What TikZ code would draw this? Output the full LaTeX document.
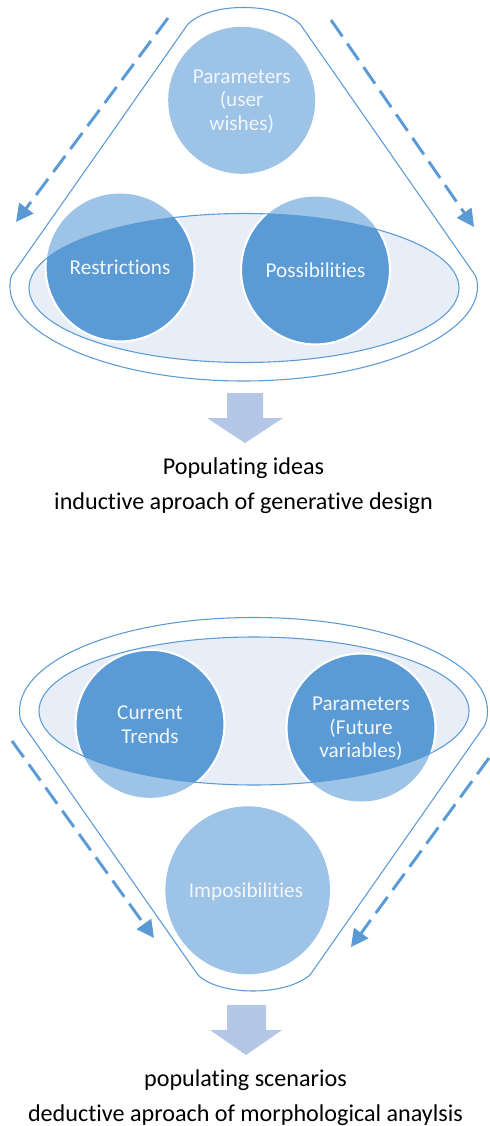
\documentclass[tikz,border=0pt]{standalone}
\usepackage{fontspec}
\setmainfont[Ligatures=NoCommon]{Carlito}
\usetikzlibrary{arrows.meta}
\definecolor{darkblue}{HTML}{5B9BD5}
\definecolor{lightblue}{HTML}{9DC3E6}
\definecolor{paleblue}{HTML}{E7EEF8}
\definecolor{blockblue}{HTML}{B4C7E7}
\definecolor{textwhite}{HTML}{F2F6FB}
\tikzset{
  x=0.75pt,y=-0.75pt,
  outline/.style={draw=darkblue,line width=0.8pt},
  flow/.style={draw=darkblue,line width=2.2pt,dash pattern=on 15pt off 6.5pt,-{Triangle[length=13pt,width=13pt]}},
  block/.style={fill=blockblue},
  circlabel/.style={text=textwhite,font=\fontsize{15.9pt}{17.7pt}\selectfont,align=center,inner sep=0pt},
  caption/.style={text=black,font=\fontsize{18.1pt}{22pt}\selectfont,inner sep=0pt}
}
\begin{document}
\begin{tikzpicture}
\useasboundingbox (0,0) rectangle (489,1126);
\fill[white] (0,0) rectangle (489,1126);

% ---- upper funnel
\draw[outline] (188,24) .. controls (200,13) and (220,7.5) .. (243.5,7.5)
  .. controls (267,7.5) and (288,13) .. (300,24) -- (475,275)
  .. controls (477,279) and (477.5,283) .. (477.5,287)
  .. controls (477.5,335) and (377,381) .. (243.5,381)
  .. controls (110,381) and (10,335) .. (10,287)
  .. controls (10,283) and (10,279) .. (12,275) -- cycle;
\fill[lightblue] (241.7,100.3) circle[radius=73.5];
\fill[lightblue] (120,267) circle[radius=73.5];
\fill[lightblue] (315.5,270) circle[radius=73.5];
\fill[paleblue] (244,288) ellipse[x radius=215,y radius=74.5];
\begin{scope}
  \clip (244,288) ellipse[x radius=215,y radius=74.5];
  \draw[white,line width=1.6pt,fill=darkblue] (120,267) circle[radius=74.5];
  \draw[white,line width=1.6pt,fill=darkblue] (315.5,270) circle[radius=74.5];
\end{scope}
\draw[outline] (244,288) ellipse[x radius=215,y radius=74.5];
\node[circlabel] (params) at (241.7,101.5) {Parameters\\(user\\wishes)};
\node[circlabel] (restr) at (120,267) {Restrictions};
\node[circlabel] (poss) at (315.5,270) {Possibilities};

\coordinate (a1s) at (168,18); \coordinate (a1e) at (16,222);
\coordinate (a2s) at (331,20); \coordinate (a2e) at (474,227);
\draw[flow] (a1s) -- (a1e);
\draw[flow] (a2s) -- (a2e);

\fill[block] (227,393) -- (263,393) -- (263,418) -- (283,418) -- (245,443) -- (207,418) -- (227,418) -- cycle;
\node[caption] (cap1) at (243.5,468) {Populating ideas};
\node[caption] (cap2) at (243.5,503.5) {inductive aproach of generative design};

% ---- lower funnel
\draw[outline] (22,723) .. controls (20,719) and (19.5,715) .. (19.5,711)
  .. controls (19.5,660) and (120,617.5) .. (253.5,617.5)
  .. controls (387,617.5) and (487.5,660) .. (487.5,711)
  .. controls (487.5,715) and (487,720) .. (485,725) -- (310,975)
  .. controls (298,985) and (277,991) .. (253,991)
  .. controls (230,991) and (208,985) .. (198,975) -- cycle;
\fill[lightblue] (150,724.3) circle[radius=73.5];
\fill[lightblue] (361,728) circle[radius=73.5];
\fill[lightblue] (247.7,890.3) ellipse[x radius=82.3,y radius=84];
\fill[paleblue] (254,711) ellipse[x radius=215,y radius=74];
\begin{scope}
  \clip (254,711) ellipse[x radius=215,y radius=74];
  \draw[white,line width=1.6pt,fill=darkblue] (150,724.3) circle[radius=74.5];
  \draw[white,line width=1.6pt,fill=darkblue] (361,728) circle[radius=74.5];
\end{scope}
\draw[outline] (254,711) ellipse[x radius=215,y radius=74];
\node[circlabel] (trends) at (150,724.5) {Current\\Trends};
\node[circlabel] (future) at (361,729) {Parameters\\(Future\\variables)};
\node[circlabel] (imp) at (246,891.5) {Imposibilities};

\coordinate (b1s) at (12,741); \coordinate (b1e) at (154,938);
\coordinate (b2s) at (489,758); \coordinate (b2e) at (351,947);
\draw[flow] (b1s) -- (b1e);
\draw[flow] (b2s) -- (b2e);

\fill[block] (227,1005) -- (266,1005) -- (266,1030) -- (282,1030) -- (246,1055) -- (210,1030) -- (227,1030) -- cycle;
\node[caption] (cap3) at (245.5,1080) {populating scenarios};
\node[caption] (cap4) at (245.5,1115.5) {deductive aproach of morphological anaylsis};
\end{tikzpicture}
\end{document}
